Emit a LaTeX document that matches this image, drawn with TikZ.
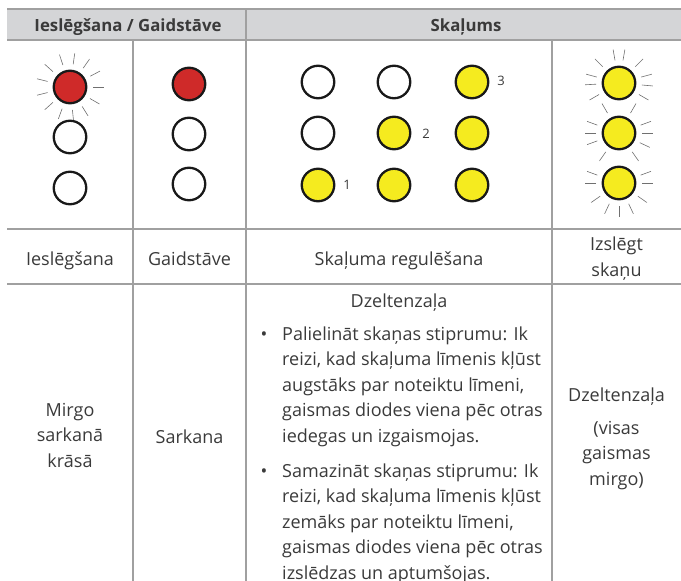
\documentclass[tikz,border=0pt]{standalone}
\usepackage{fontspec}
\setmainfont{Open Sans}
\definecolor{gridc}{HTML}{A0A0A0}
\definecolor{hdrfill}{HTML}{D4D5D7}
\definecolor{ledred}{HTML}{CF2A29}
\definecolor{ledyel}{HTML}{F5EB1F}
\definecolor{txtc}{HTML}{3A3A3A}
\definecolor{rayc}{HTML}{707070}
\tikzset{
  gridline/.style={draw=gridc, line width=1.3pt},
  led/.style={circle, draw=black!90, line width=2.3pt, minimum size=32.5pt, inner sep=0pt},
  ledoff/.style={led, fill=white},
  ledr/.style={led, fill=ledred},
  ledy/.style={led, fill=ledyel},
  cell/.style={font=\fontsize{18}{25.5}\selectfont, text=txtc, inner sep=0pt, align=center, anchor=base},
  para/.style={font=\fontsize{18}{25.5}\selectfont, text=txtc, inner sep=0pt, align=left, anchor=base west},
  hdr/.style={font=\bfseries\fontsize{16.8}{20}\selectfont, text=txtc, inner sep=0pt, anchor=base},
  num/.style={font=\fontsize{13}{15}\selectfont, text=txtc, inner sep=0pt},
  ray/.style={draw=rayc, line width=0.6pt}
}
\newcommand{\ledrays}[2]{%
  \foreach \a in {#2} {\draw[ray] (#1) ++(\a:23pt) -- ++(\a:11pt);}}
\begin{document}
\begin{tikzpicture}[x=1pt,y=-1pt]
\useasboundingbox (0,0) rectangle (681,581);
% header
\fill[hdrfill] (7,9) rectangle (681,40);
\draw[gridline, line width=2pt] (7,9) -- (681,9);
\draw[gridline] (7,40) -- (681,40);
\draw[gridline] (7,229) -- (681,229);
\draw[gridline] (7,284) -- (681,284);
\draw[gridline] (246,9) -- (246,581);
\draw[gridline] (133,40) -- (133,581);
\draw[gridline] (552,40) -- (552,581);
\node[hdr] (h1) at (128,31) {Ieslēgšana / Gaidstāve};
\node[hdr] (h2) at (466,31) {Skaļums};
% rays
\coordinate (r1) at (70,87);
\coordinate (y41) at (619,83);
\coordinate (y42) at (619,133);
\coordinate (y43) at (619,183);
\ledrays{r1}{0,28,55,82,108,138,166,194,222,250,276,302,330}
\ledrays{y41}{-30,-5,15,45,80,100,135,165,183,210}
\ledrays{y42}{0,20,60,120,160,180,200,235,305,335}
\ledrays{y43}{0,20,160,180,215,245,270,295,325}
% column 1
\node[ledr] (a1) at (70,87) {};
\node[ledoff] (a2) at (70,137) {};
\node[ledoff] (a3) at (70,188) {};
% column 2
\node[ledr] (b1) at (189,84) {};
\node[ledoff] (b2) at (189,134) {};
\node[ledoff] (b3) at (189,184) {};
% column 3
\node[ledoff] (c11) at (318,82) {};
\node[ledoff] (c12) at (318,133) {};
\node[ledy] (c13) at (318,185) {};
\node[ledoff] (c21) at (394,82) {};
\node[ledy] (c22) at (394,133) {};
\node[ledy] (c23) at (394,185) {};
\node[ledy] (c31) at (472,82) {};
\node[ledy] (c32) at (472,133) {};
\node[ledy] (c33) at (472,185) {};
\node[num] (n1) at (347,185) {1};
\node[num] (n2) at (426,134) {2};
\node[num] (n3) at (501,81) {3};
% column 4
\node[ledy] (d1) at (619,83) {};
\node[ledy] (d2) at (619,133) {};
\node[ledy] (d3) at (619,183) {};
% row 2 (base = last line)
\node[cell] (t1) at (70,265) {Ieslēgšana};
\node[cell] (t2) at (189.5,265) {Gaidstāve};
\node[cell] (t3) at (399,265) {Skaļuma regulēšana};
\node[cell] (t4) at (616.5,276) {Izslēgt\\skaņu};
% row 3
\node[cell] (u1) at (70,467) {Mirgo\\sarkanā\\krāsā};
\node[cell] (u2) at (189.5,443) {Sarkana};
\node[cell] (u3) at (399,307) {Dzeltenzaļa};
\node[cell] (b1dot) at (264,340) {•};
\node[para] (p1) at (282,442) {Palielināt skaņas stiprumu: Ik\\reizi, kad skaļuma līmenis kļūst\\augstāks par noteiktu līmeni,\\gaismas diodes viena pēc otras\\iedegas un izgaismojas.};
\node[cell] (b2dot) at (264,477) {•};
\node[para] (p2) at (282,579) {Samazināt skaņas stiprumu: Ik\\reizi, kad skaļuma līmenis kļūst\\zemāks par noteiktu līmeni,\\gaismas diodes viena pēc otras\\izslēdzas un aptumšojas.};
\node[cell] (u4) at (616.5,401) {Dzeltenzaļa};
\node[cell] (u5) at (616.5,485) {(visas\\gaismas\\mirgo)};
\end{tikzpicture}
\end{document}
